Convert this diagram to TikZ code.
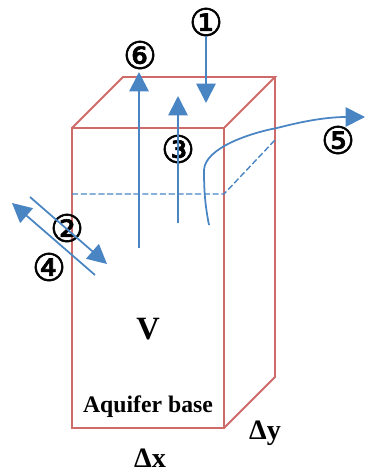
\documentclass[tikz,border=0pt]{standalone}
\usepackage{fontspec}
\setmainfont{Liberation Serif}
\newfontfamily\circfont[FakeBold=1.5]{DejaVu Sans}
\usetikzlibrary{arrows.meta}
\definecolor{boxred}{HTML}{CE6A68}
\definecolor{flowblue}{HTML}{4A85C3}
\tikzset{
    wall/.style={draw=boxred, line width=1.1pt, line join=miter},
    flow/.style={draw=flowblue, line width=1pt, -{Triangle[length=11pt,width=11pt,fill=flowblue]}},
    level/.style={draw=flowblue, line width=0.8pt, dash pattern=on 3.5pt off 1.5pt},
    num/.style={font=\circfont\fontsize{21.5pt}{22pt}\selectfont, inner sep=0pt, text=black},
    lab/.style={font=\bfseries\fontsize{13.5pt}{14pt}\selectfont, inner sep=0pt, text=black}
}
\begin{document}
\begin{tikzpicture}[x=0.02cm,y=-0.02cm]
    \useasboundingbox (0,0) rectangle (365,473);
    % block
    \draw[wall] (72,128) rectangle (224,428);
    \draw[wall] (72,128) -- (123,77) -- (275,77) -- (224,128);
    \draw[wall] (275,77) -- (275,377) -- (224,428);
    % water level
    \draw[level] (72,194) -- (224,194) -- (275,140);
    % labels
    \node[num] (one) at (206,22) {①};
    \node[num] (two) at (67,228) {②};
    \node[num] (three) at (178,149) {③};
    \node[num] (four) at (49,267) {④};
    \node[num] (five) at (338,140) {⑤};
    \node[num] (six) at (140,55) {⑥};
    \node[lab, font=\bfseries\fontsize{18.5pt}{19pt}\selectfont] (vol) at (148,329) {V};
    \node[lab] (base) at (148,407) {Aquifer base};
    \node[lab, font=\bfseries\fontsize{16pt}{17pt}\selectfont] (dx) at (150,458) {Δx};
    \node[lab, font=\bfseries\fontsize{16pt}{17pt}\selectfont] (dy) at (265,433) {Δy};
    % flow ends
    \coordinate (oneend) at (206,103);
    \coordinate (twostart) at (30,197);
    \coordinate (twoend) at (107,264);
    \coordinate (threestart) at (178,223);
    \coordinate (threeend) at (178,96);
    \coordinate (fourstart) at (95,275);
    \coordinate (fourend) at (12,203);
    \coordinate (fivestart) at (209,225);
    \coordinate (fiveend) at (365,117);
    \coordinate (sixstart) at (139,248);
    \coordinate (sixend) at (139,72);
    % flows
    \draw[flow] (one.south) -- (oneend);
    \draw[flow] (twostart) -- (twoend);
    \draw[flow] (threestart) -- (threeend);
    \draw[flow] (fourstart) -- (fourend);
    \draw[flow] (sixstart) -- (sixend);
    \draw[flow] (fivestart) .. controls (205,205) and (204,190) .. (204,170)
        .. controls (205,148) and (250,133) .. (277,128)
        .. controls (300,122) and (325,117) .. (fiveend);
\end{tikzpicture}
\end{document}
